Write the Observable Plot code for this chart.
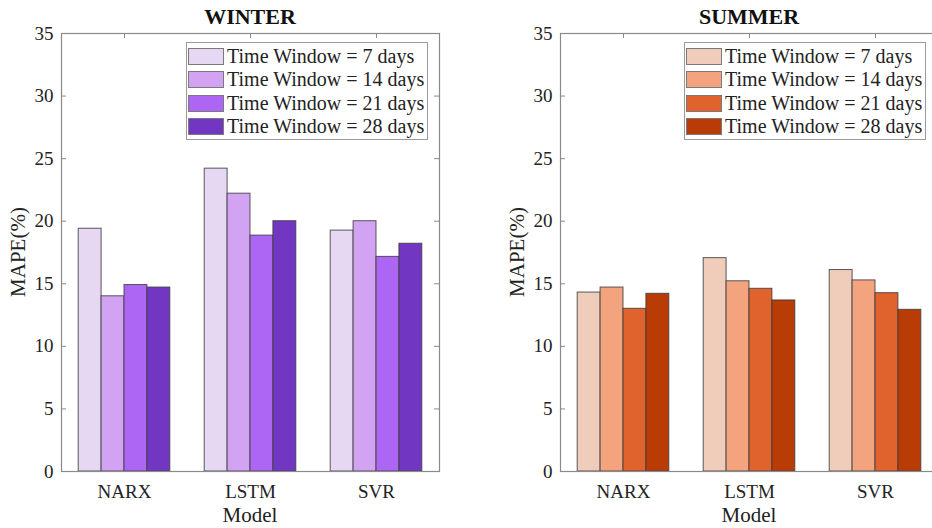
<!DOCTYPE html>
<html><head><meta charset="utf-8">
<script src="https://cdn.jsdelivr.net/npm/d3@7"></script>
<script src="https://cdn.jsdelivr.net/npm/@observablehq/plot@0.6"></script>
<style>
html,body{margin:0;padding:0;overflow:hidden;background:#fff;}
#root{position:relative;width:932px;height:528px;overflow:hidden;font-family:"Liberation Serif","Times New Roman",serif;color:#222;}
.panel{position:absolute;top:0;}
.panel svg{max-width:none !important;font-family:"Liberation Serif","Times New Roman",serif !important;}
.panel svg text{font-family:"Liberation Serif","Times New Roman",serif !important;}
.title{position:absolute;top:4px;font-weight:bold;font-size:22px;line-height:26px;transform:translateX(-50%);white-space:nowrap;color:#111;}
.ylab{position:absolute;font-size:21px;line-height:21px;white-space:nowrap;transform:translate(-50%,-50%) rotate(-90deg);}
.xlab{position:absolute;top:503px;font-size:21px;line-height:24px;transform:translateX(-50%);white-space:nowrap;}
.legend{position:absolute;top:42px;border:1px solid #9a9a9a;background:#fff;padding:2px 3px 1px 1px;}
.legend .row{display:flex;align-items:center;height:23.3px;}
.legend .sw{width:36px;height:17px;box-sizing:border-box;border:1px solid #7a7a7a;margin-right:3px;}
.legend .tx{font-size:20px;line-height:23px;white-space:nowrap;}
</style>
</head><body>
<div id="root"></div>
<script>
const models = ["NARX", "LSTM", "SVR"];
const windows = ["Time Window = 7 days", "Time Window = 14 days", "Time Window = 21 days", "Time Window = 28 days"];
const yTicks = [0, 5, 10, 15, 20, 25, 30, 35];

const winter7 = [19.4, 24.2, 19.25];
const winter14 = [14.0, 22.2, 20.0];
const winter21 = [14.9, 18.85, 17.15];
const winter28 = [14.7, 20.0, 18.2];

const summer7 = [14.3, 17.05, 16.1];
const summer14 = [14.7, 15.2, 15.27];
const summer21 = [13.0, 14.6, 14.25];
const summer28 = [14.2, 13.67, 12.92];

const winterColors = ["#E6D7F3", "#D3A3F3", "#AC66F3", "#7137C3"];
const summerColors = ["#F0CDBA", "#F3A47F", "#E0622D", "#B93B06"];

const root = document.getElementById("root");
const serif = "Liberation Serif, Times New Roman, serif";

function rowsOf(series) {
  const rows = [];
  series.forEach((vals, k) => vals.forEach((v, i) => rows.push({m: i + 1, k, w: windows[k], v})));
  return rows;
}

function panel({left, width, marginLeft, marginRight, series, colors, title}) {
  const marginTop = 33, marginBottom = 57, height = 528;
  const W = width - marginLeft - marginRight;
  const H = height - marginTop - marginBottom;
  const bw = 0.727 / 4;
  const axisColor = "#8a8a8a";
  const chart = Plot.plot({
    width, height, marginTop, marginBottom, marginLeft, marginRight,
    style: "font-family: " + serif + "; font-size: 19px; color: #222; background: transparent; max-width: none;",
    x: {type: "linear", domain: [0.5, 3.5], label: null},
    y: {domain: [0, 35], label: null},
    color: {domain: windows, range: colors},
    marks: [
      Plot.rectY(rowsOf(series), {
        x1: d => d.m - 2 * bw + d.k * bw,
        x2: d => d.m - 2 * bw + (d.k + 1) * bw,
        y1: 0, y2: "v", fill: "w", stroke: "#3d3d3d", strokeWidth: 1, strokeOpacity: 0.85
      }),
      Plot.frame({stroke: axisColor, strokeWidth: 1.2}),
      Plot.ruleY(yTicks, {insetRight: W - 5, stroke: axisColor}),
      Plot.ruleY(yTicks, {insetLeft: W - 5, stroke: axisColor}),
      Plot.ruleX([1, 2, 3], {insetBottom: H - 5, stroke: axisColor}),
      Plot.axisY(yTicks, {tickSize: 0, tickPadding: 8, label: null, fontFamily: serif, fontSize: 19}),
      Plot.axisX([1, 2, 3], {tickSize: 0, tickPadding: 13, tickFormat: i => models[i - 1], label: null, fontFamily: serif, fontSize: 19})
    ]
  });
  const wrap = document.createElement("div");
  wrap.className = "panel";
  wrap.style.left = left + "px";
  wrap.style.width = width + "px";
  wrap.appendChild(chart);
  root.appendChild(wrap);

  const cx = left + marginLeft + W / 2;
  const t = document.createElement("div");
  t.className = "title"; t.textContent = title; t.style.left = cx + "px";
  root.appendChild(t);

  const yl = document.createElement("div");
  yl.className = "ylab"; yl.textContent = "MAPE(%)";
  yl.style.left = (left + marginLeft - 43) + "px"; yl.style.top = (marginTop + H / 2) + "px";
  root.appendChild(yl);

  const xl = document.createElement("div");
  xl.className = "xlab"; xl.textContent = "Model"; xl.style.left = cx + "px";
  root.appendChild(xl);
}

function legend(x, colors) {
  const lg = document.createElement("div");
  lg.className = "legend";
  lg.style.left = x + "px";
  windows.forEach((w, k) => {
    const r = document.createElement("div"); r.className = "row";
    const s = document.createElement("div"); s.className = "sw"; s.style.background = colors[k];
    const t = document.createElement("span"); t.className = "tx"; t.textContent = w;
    r.appendChild(s); r.appendChild(t); lg.appendChild(r);
  });
  root.appendChild(lg);
}

panel({left: 0, width: 466, marginLeft: 61, marginRight: 27, series: [winter7, winter14, winter21, winter28], colors: winterColors, title: "WINTER"});
panel({left: 466, width: 472, marginLeft: 94, marginRight: 0, series: [summer7, summer14, summer21, summer28], colors: summerColors, title: "SUMMER"});
legend(186, winterColors);
legend(684, summerColors);
</script>
</body></html>
